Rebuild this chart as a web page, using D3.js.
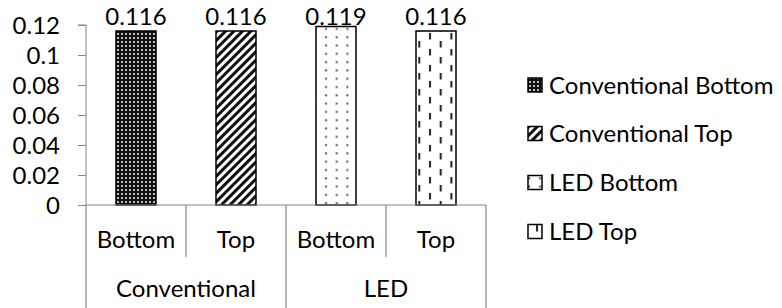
<!DOCTYPE html>
<html><head><meta charset="utf-8">
<script src="https://cdn.jsdelivr.net/npm/d3@7"></script>
<style>
html,body{margin:0;padding:0;background:#fff;}
svg{display:block;}
text{font-family:Lato,"Open Sans",sans-serif;fill:#000;}
</style></head>
<body>
<svg id="chart" width="782" height="308"></svg>
<script>
// ---- data ----
const groups = ["Conventional", "LED"];
const subs = ["Bottom", "Top"];
const seriesNames = ["Conventional Bottom", "Conventional Top", "LED Bottom", "LED Top"];
const values = [0.116, 0.116, 0.119, 0.116];
const yTicks = [0, 0.02, 0.04, 0.06, 0.08, 0.1, 0.12];
const patternIds = ["pCB", "pCT", "pLB", "pLT"];

(function () {
const svg = d3.select("#chart");
const W = 782, H = 308;
const mLeft = 86, mRight = 486, mTop = 25, mBottom = 205;
const axisColor = "#868686";
const fs = 24;

// patterns
const defs = svg.append("defs");
let p = defs.append("pattern").attr("id", "pCB").attr("patternUnits", "userSpaceOnUse").attr("width", 4).attr("height", 4);
p.append("rect").attr("width", 4).attr("height", 4).attr("fill", "#111");
p.append("rect").attr("x", 1).attr("y", 1).attr("width", 2).attr("height", 2).attr("fill", "#bdbdbd");
p = defs.append("pattern").attr("id", "pCT").attr("patternUnits", "userSpaceOnUse").attr("width", 6).attr("height", 6)
  .attr("patternTransform", "rotate(45)");
p.append("rect").attr("width", 6).attr("height", 6).attr("fill", "#fff");
p.append("rect").attr("width", 3).attr("height", 6).attr("fill", "#111");
p = defs.append("pattern").attr("id", "pLB").attr("patternUnits", "userSpaceOnUse").attr("width", 10.7).attr("height", 8.3);
p.append("rect").attr("width", 10.7).attr("height", 8.3).attr("fill", "#fff");
p.append("rect").attr("x", 4).attr("y", 3).attr("width", 2).attr("height", 2).attr("fill", "#555");
p = defs.append("pattern").attr("id", "pLT").attr("patternUnits", "userSpaceOnUse").attr("width", 21.4).attr("height", 16);
p.append("rect").attr("width", 21.4).attr("height", 16).attr("fill", "#fff");
p.append("rect").attr("x", 1).attr("y", 1).attr("width", 2).attr("height", 6.5).attr("fill", "#222");
p.append("rect").attr("x", 11.7).attr("y", 9).attr("width", 2).attr("height", 6.5).attr("fill", "#222");

// scales
const cats = [];
groups.forEach(g => subs.forEach(s => cats.push(g + " " + s)));
const x = d3.scaleBand().domain(cats).range([mLeft, mRight]).paddingInner(0.6).paddingOuter(0.3);
const xb = d3.scaleBand().domain(cats).range([mLeft, mRight]);
const y = d3.scaleLinear().domain([0, 0.12]).range([mBottom, mTop]);

// y axis
const yAxis = svg.append("g").attr("transform", `translate(${mLeft},0)`)
  .call(d3.axisLeft(y).tickValues(yTicks).tickSize(8).tickPadding(18).tickFormat(d => String(+d.toFixed(2))));
yAxis.select(".domain").attr("stroke", axisColor).attr("d", `M-8,${mTop}H0V${mBottom}`);
yAxis.selectAll(".tick line").attr("stroke", axisColor);
yAxis.selectAll(".tick text").attr("font-size", fs).attr("font-family", "Lato").attr("fill", "#000").attr("dy", "0.36em");

// bars
svg.append("g").selectAll("rect").data(values).join("rect")
  .attr("x", (d, i) => x(cats[i]))
  .attr("y", d => y(d))
  .attr("width", x.bandwidth())
  .attr("height", d => y(0) - y(d))
  .attr("fill", (d, i) => `url(#${patternIds[i]})`)
  .attr("stroke", "#000").attr("stroke-width", 1.5);

// x axis baseline
svg.append("line").attr("x1", mLeft).attr("x2", mRight).attr("y1", mBottom).attr("y2", mBottom)
  .attr("stroke", axisColor).attr("stroke-width", 1.2);

// category separators
const gx = svg.append("g").attr("stroke", axisColor).attr("stroke-width", 1.2);
cats.forEach((c, i) => {
  const xx = xb(c);
  const isGroupEdge = i % subs.length === 0;
  gx.append("line").attr("x1", xx).attr("x2", xx).attr("y1", mBottom).attr("y2", isGroupEdge ? H : 257);
});
gx.append("line").attr("x1", mRight).attr("x2", mRight).attr("y1", mBottom).attr("y2", H);

// sub labels
svg.append("g").selectAll("text").data(cats).join("text")
  .attr("x", d => xb(d) + xb.bandwidth() / 2)
  .attr("y", 248)
  .attr("text-anchor", "middle").attr("font-size", fs)
  .text((d, i) => subs[i % subs.length]);

// group labels
svg.append("g").selectAll("text").data(groups).join("text")
  .attr("x", (g, gi) => xb(cats[gi * subs.length]) + xb.bandwidth() * subs.length / 2)
  .attr("y", 297)
  .attr("text-anchor", "middle").attr("font-size", fs)
  .text(d => d);

// data labels
svg.append("g").selectAll("text").data(values).join("text")
  .attr("x", (d, i) => x(cats[i]) + x.bandwidth() / 2)
  .attr("y", d => Math.max(y(d) - 6, 25))
  .attr("text-anchor", "middle").attr("font-size", fs)
  .text(d => d3.format(".3f")(d));

// legend
const legY = [85, 133.5, 182.5, 231.5];
const leg = svg.append("g");
seriesNames.forEach((n, i) => {
  leg.append("rect").attr("x", 528).attr("y", legY[i] - 7).attr("width", 14).attr("height", 14)
    .attr("fill", `url(#${patternIds[i]})`).attr("stroke", "#000").attr("stroke-width", 1.5);
  leg.append("text").attr("x", 549).attr("y", legY[i]).attr("dy", "0.36em")
    .attr("font-size", fs).text(n);
});
})();
</script>
</body></html>
